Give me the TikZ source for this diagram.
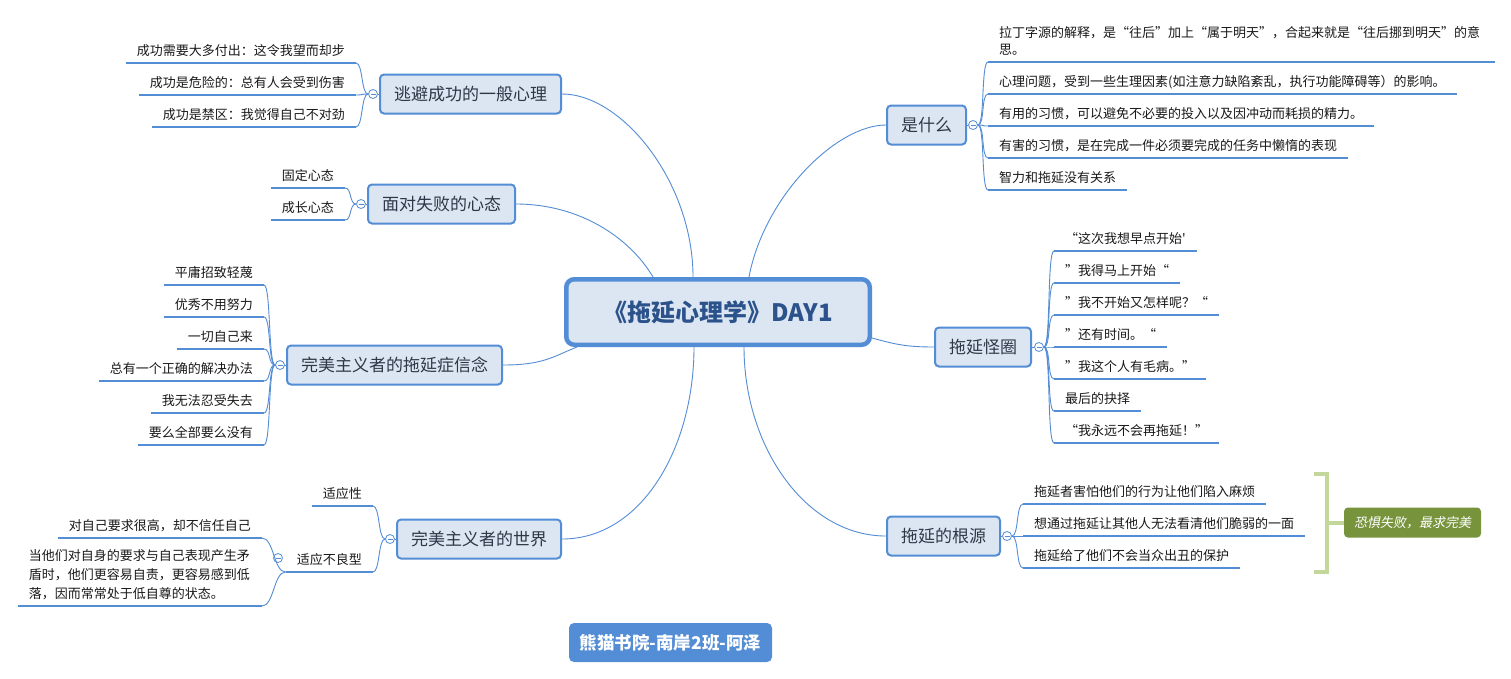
\documentclass[tikz,border=0pt]{standalone}
\usepackage{fontspec}
\newfontfamily\cjk{Noto Sans CJK SC}
\newfontfamily\cjkit[FakeSlant=0.2]{Noto Sans CJK SC}
\usetikzlibrary{calc}
\newcommand{\fwo}[1]{\makebox[1em][r]{#1}}
\newcommand{\fwc}[1]{\makebox[1em][l]{#1}}
\definecolor{lineblue}{RGB}{83,141,213}
\definecolor{paleblue}{RGB}{220,230,242}
\definecolor{topictext}{RGB}{45,55,72}
\definecolor{roottext}{RGB}{44,82,140}
\definecolor{leaftext}{RGB}{25,25,25}
\definecolor{olive}{RGB}{119,147,60}
\definecolor{palegreen}{RGB}{196,215,155}
\tikzset{
  root/.style={draw=lineblue, line width=4.5pt, fill=paleblue, rounded corners=8pt,
    minimum width=303.5pt, minimum height=65.5pt, text=roottext,
    font=\cjk\bfseries\fontsize{24}{28}\selectfont},
  topic/.style={draw=lineblue, line width=2pt, fill=paleblue, rounded corners=4pt,
    inner xsep=14pt, minimum height=39pt, text=topictext,
    font=\cjk\fontsize{17}{20}\selectfont},
  leaf/.style={inner xsep=11pt, inner ysep=0pt, text height=13pt, text depth=7.5pt,
    text=leaftext, font=\cjk\fontsize{13}{17}\selectfont,
    append after command={(\tikzlastnode.south west) edge[uline] (\tikzlastnode.south east)}},
  uline/.style={draw=lineblue, line width=2.5pt},
  link/.style={draw=lineblue, line width=0.9pt},
  tol/.style={to path={.. controls +(-7,0) and +(7,0) .. (\tikztotarget)}},
  tor/.style={to path={.. controls +(7,0) and +(-7,0) .. (\tikztotarget)}},
  fold/.style={circle, draw=lineblue, line width=0.8pt, fill=white, minimum size=9pt, inner sep=0pt,
    path picture={\draw[lineblue, line width=0.8pt]
      ([xshift=2pt]path picture bounding box.west) -- ([xshift=-2pt]path picture bounding box.east);}},
  brace/.style={draw=palegreen, line width=4pt},
  summary/.style={fill=olive, rounded corners=4pt, minimum width=137pt, minimum height=30pt,
    text=white, font=\cjkit\fontsize{13}{16}\selectfont},
  badge/.style={fill=lineblue, rounded corners=5pt, minimum width=203pt, minimum height=39pt,
    text=white, font=\cjk\bfseries\fontsize{17.5}{21}\selectfont}
}
\begin{document}
\begin{tikzpicture}[x=1pt, y=-1pt]
\fill[white] (0,0) rectangle (1511,678);
\useasboundingbox (0,0) rectangle (1511,678);

% centre topic
\node[root] (root) at (718,312) {《拖延心理学》DAY1};

% main topics
\node[topic, anchor=east] (escape) at (562,94) {逃避成功的一般心理};
\node[topic, anchor=east] (fail) at (516,204) {面对失败的心态};
\node[topic, anchor=east] (belief) at (503,365) {完美主义者的拖延症信念};
\node[topic, anchor=east] (world) at (562,539) {完美主义者的世界};
\node[topic, anchor=west] (what) at (886,125) {是什么};
\node[topic, anchor=west] (loop) at (934,347) {拖延怪圈};
\node[topic, anchor=west] (source) at (886,536) {拖延的根源};

% fold marks
\node[fold] (escapedot) at (373,94) {};
\node[fold] (faildot) at (361,204) {};
\node[fold] (beliefdot) at (280,365) {};
\node[fold] (worlddot) at (390,539) {};
\node[fold] (whatdot) at (973,125) {};
\node[fold] (loopdot) at (1039,347) {};
\node[fold] (sourcedot) at (1007,536) {};

% leaves, left
\node[leaf, anchor=south east] (e1) at (356,63) {成功需要大多付出：这令我望而却步};
\node[leaf, anchor=south east] (e2) at (356,95) {成功是危险的：总有人会受到伤害};
\node[leaf, anchor=south east] (e3) at (356,127) {成功是禁区：我觉得自己不对劲};
\node[leaf, anchor=south east] (f1) at (345,188) {固定心态};
\node[leaf, anchor=south east] (f2) at (345,220) {成长心态};
\node[leaf, anchor=south east] (b1) at (264,285) {平庸招致轻蔑};
\node[leaf, anchor=south east] (b2) at (264,317) {优秀不用努力};
\node[leaf, anchor=south east] (b3) at (264,349) {一切自己来};
\node[leaf, anchor=south east] (b4) at (264,381) {总有一个正确的解决办法};
\node[leaf, anchor=south east] (b5) at (264,413) {我无法忍受失去};
\node[leaf, anchor=south east] (b6) at (264,445) {要么全部要么没有};
\node[leaf, anchor=south east] (w1) at (373,506) {适应性};
\node[leaf, anchor=south east] (w2) at (373,572) {适应不良型};
\node[fold] (misfitdot) at (278,558) {};
\node[leaf, anchor=south east] (m1) at (262,538) {对自己要求很高，却不信任自己};
\node[leaf, anchor=south east] (m2) at (262,606) {\parbox[b]{222pt}{\fontsize{13}{19}\selectfont\raggedright
  当他们对自身的要求与自己表现产生矛\\盾时，他们更容易自责，更容易感到低\\落，因而常常处于低自尊的状态。}};

% leaves, right
\node[leaf, anchor=south west] (q1) at (988,62) {\parbox[b]{485pt}{\raggedright
  拉丁字源的解释，是“往后”加上“属于明天”，合起来就是“往后挪到明天”的意\\思。}};
\node[leaf, anchor=south west] (q2) at (988,94) {心理问题，受到一些生理因素(如注意力缺陷紊乱，执行功能障碍等）的影响。};
\node[leaf, anchor=south west] (q3) at (988,126) {有用的习惯，可以避免不必要的投入以及因冲动而耗损的精力。};
\node[leaf, anchor=south west] (q4) at (988,158) {有害的习惯，是在完成一件必须要完成的任务中懒惰的表现};
\node[leaf, anchor=south west] (q5) at (988,190) {智力和拖延没有关系};
\node[leaf, anchor=south west] (l1) at (1054,251) {\fwo{“}这次我想早点开始'};
\node[leaf, anchor=south west] (l2) at (1054,283) {\fwc{”}我得马上开始\fwo{“}};
\node[leaf, anchor=south west] (l3) at (1054,315) {\fwc{”}我不开始又怎样呢？\fwo{“}};
\node[leaf, anchor=south west] (l4) at (1054,347) {\fwc{”}还有时间。\fwo{“}};
\node[leaf, anchor=south west] (l5) at (1054,379) {\fwc{”}我这个人有毛病。\fwc{”}};
\node[leaf, anchor=south west] (l6) at (1054,411) {最后的抉择};
\node[leaf, anchor=south west] (l7) at (1054,443) {\fwo{“}我永远不会再拖延！\fwc{”}};
\node[leaf, anchor=south west] (s1) at (1023,504) {拖延者害怕他们的行为让他们陷入麻烦};
\node[leaf, anchor=south west] (s2) at (1023,536) {想通过拖延让其他人无法看清他们脆弱的一面};
\node[leaf, anchor=south west] (s3) at (1023,568) {拖延给了他们不会当众出丑的保护};

% summary of the roots
\node[summary] (sum) at (1412.5,522.5) {恐惧失败，最求完美};
\draw[brace] (1314,474) -| (1327,572) -- (1314,572);
\draw[brace] (sum.west) -- ++(-17,0);

% signature
\node[badge] (sign) at (670.5,642.5) {熊猫书院-南岸2班-阿泽};

% main branches
\draw[link] (escape.east) .. controls +(60,0) and +(0,-95) .. ($(root.north west)+(129,0)$);
\draw[link] (fail.east) .. controls +(64,0) and +(-23,-39) .. ($(root.north west)+(89,0)$);
\draw[link] (what.west) .. controls +(-50,0) and +(15,-80) .. ($(root.north west)+(185,0)$);
\draw[link] (belief.east) .. controls +(40,0) and +(-25,10) .. ($(root.south west)+(13,0)$);
\draw[link] (world.east) .. controls +(80,0) and +(0,100) .. ($(root.south west)+(130,0)$);
\draw[link] ($(root.south west)+(180,0)$) .. controls +(0,100) and +(-80,0) .. (source.west);
\draw[link] ($(root.south east)+(0,-9)$) .. controls +(25,7) and +(-25,0) .. (loop.west);

% topic to fold mark
\draw[link] (escape.west) -- (escapedot.east);
\draw[link] (fail.west) -- (faildot.east);
\draw[link] (belief.west) -- (beliefdot.east);
\draw[link] (world.west) -- (worlddot.east);
\draw[link] (what.east) -- (whatdot.west);
\draw[link] (loop.east) -- (loopdot.west);
\draw[link] (source.east) -- (sourcedot.west);

% sub branches
\path[link]
  (escapedot.west) edge[tol] (e1.south east) edge[tol] (e2.south east) edge[tol] (e3.south east)
  (faildot.west) edge[tol] (f1.south east) edge[tol] (f2.south east)
  (beliefdot.west) edge[tol] (b1.south east) edge[tol] (b2.south east) edge[tol] (b3.south east)
    edge[tol] (b4.south east) edge[tol] (b5.south east) edge[tol] (b6.south east)
  (worlddot.west) edge[tol] (w1.south east) edge[tol] (w2.south east)
  (w2.south west) edge[tol, to path={.. controls +(-12,0) and +(12,0) .. (\tikztotarget)}] (m1.south east)
    edge[to path={.. controls +(-12,0) and +(12,0) .. (\tikztotarget)}] (m2.south east)
  (whatdot.east) edge[tor] (q1.south west) edge[tor] (q2.south west) edge[tor] (q3.south west)
    edge[tor] (q4.south west) edge[tor] (q5.south west)
  (loopdot.east) edge[tor] (l1.south west) edge[tor] (l2.south west) edge[tor] (l3.south west)
    edge[tor] (l4.south west) edge[tor] (l5.south west) edge[tor] (l6.south west) edge[tor] (l7.south west)
  (sourcedot.east) edge[tor] (s1.south west) edge[tor] (s2.south west) edge[tor] (s3.south west);
\end{tikzpicture}
\end{document}
